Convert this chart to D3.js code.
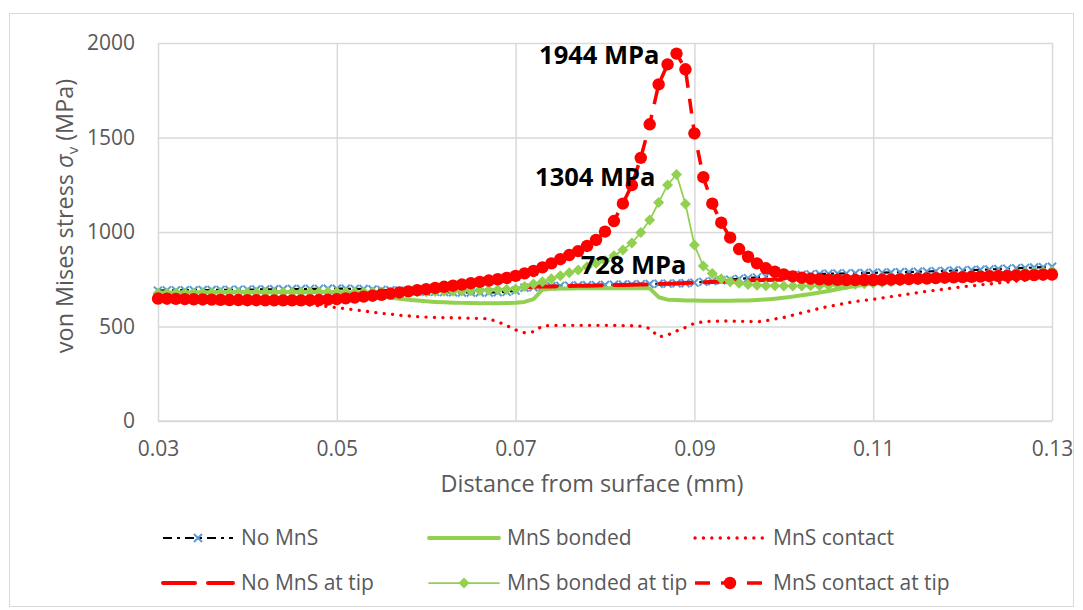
<!DOCTYPE html>
<html>
<head>
<meta charset="utf-8">
<script src="https://cdn.jsdelivr.net/npm/d3@7"></script>
<style>
  body { margin: 0; background: #fff; }
  text { font-family: "Open Sans", "Noto Sans", sans-serif; }
</style>
</head>
<body>
<div id="chart"></div>
<script>
// distance from surface (mm)
const distance = [
  0.030, 0.031, 0.032, 0.033, 0.034, 0.035, 0.036, 0.037, 0.038, 0.039,
  0.040, 0.041, 0.042, 0.043, 0.044, 0.045, 0.046, 0.047, 0.048, 0.049,
  0.050, 0.051, 0.052, 0.053, 0.054, 0.055, 0.056, 0.057, 0.058, 0.059,
  0.060, 0.061, 0.062, 0.063, 0.064, 0.065, 0.066, 0.067, 0.068, 0.069,
  0.070, 0.071, 0.072, 0.073, 0.074, 0.075, 0.076, 0.077, 0.078, 0.079,
  0.080, 0.081, 0.082, 0.083, 0.084, 0.085, 0.086, 0.087, 0.088, 0.089,
  0.090, 0.091, 0.092, 0.093, 0.094, 0.095, 0.096, 0.097, 0.098, 0.099,
  0.100, 0.101, 0.102, 0.103, 0.104, 0.105, 0.106, 0.107, 0.108, 0.109,
  0.110, 0.111, 0.112, 0.113, 0.114, 0.115, 0.116, 0.117, 0.118, 0.119,
  0.120, 0.121, 0.122, 0.123, 0.124, 0.125, 0.126, 0.127, 0.128, 0.129, 0.130
];

const noMnS = [
  690, 691, 691, 692, 692, 693, 693, 694, 694, 695,
  695, 696, 696, 697, 697, 698, 698, 699, 699, 700,
  700, 700, 699, 698, 696, 694, 692, 690, 688, 686,
  684, 683, 682, 681, 680, 680, 680, 680, 681, 683,
  690, 705, 708, 711, 713, 715, 716, 717, 718, 719,
  720, 721, 722, 723, 724, 725, 726, 727, 728, 729,
  732, 736, 740, 744, 748, 752, 756, 760, 764, 767,
  770, 772, 774, 776, 778, 779, 780, 781, 782, 783,
  784, 785, 786, 787, 788, 790, 791, 793, 794, 796,
  797, 799, 800, 802, 804, 806, 808, 810, 812, 814, 816
];

const mnsBonded = [
  680, 680, 680, 681, 681, 681, 681, 682, 682, 682,
  682, 682, 683, 683, 683, 683, 683, 683, 682, 682,
  680, 678, 675, 670, 665, 659, 653, 647, 642, 637,
  633, 630, 628, 626, 625, 624, 623, 623, 623, 624,
  626, 630, 645, 695, 700, 701, 701, 702, 702, 702,
  703, 703, 703, 703, 703, 702, 655, 642, 640, 638,
  637, 636, 636, 636, 636, 637, 638, 640, 643, 647,
  652, 658, 665, 672, 680, 688, 697, 706, 714, 721,
  727, 732, 737, 741, 745, 750, 753, 757, 760, 763,
  766, 769, 771, 774, 776, 778, 781, 783, 785, 788, 790
];

const mnsContact = [
  645, 644, 643, 642, 641, 640, 639, 638, 636, 634,
  632, 630, 628, 626, 623, 620, 617, 614, 610, 605,
  600, 594, 588, 582, 576, 570, 565, 560, 556, 552,
  550, 548, 547, 546, 545, 544, 543, 540, 525, 505,
  482, 467, 472, 503, 505, 506, 506, 506, 506, 506,
  506, 506, 505, 504, 502, 490, 445, 455, 476, 495,
  517, 525, 528, 529, 529, 528, 527, 525, 530, 540,
  548, 560, 572, 584, 596, 606, 615, 624, 632, 638,
  644, 651, 658, 665, 672, 679, 686, 692, 698, 704,
  710, 715, 720, 725, 730, 735, 740, 745, 750, 757, 764
];

// "No MnS at tip" only covers the tip region
const tipDistance = [
  0.071, 0.072, 0.073, 0.074, 0.075, 0.076, 0.077, 0.078, 0.079, 0.080,
  0.081, 0.082, 0.083, 0.084, 0.085, 0.086, 0.087, 0.088, 0.089, 0.090,
  0.091, 0.092, 0.093, 0.094, 0.095, 0.096, 0.097, 0.098, 0.099, 0.100
];
const noMnSTip = [
  708, 710, 711, 712, 713, 714, 715, 716, 717, 718,
  719, 720, 721, 722, 723, 725, 726, 728, 730, 732,
  734, 736, 738, 740, 742, 744, 745, 746, 747, 748
];

const mnsBondedTip = [
  676, 676, 677, 677, 677, 678, 678, 678, 679, 679,
  679, 680, 680, 680, 681, 681, 681, 682, 682, 682,
  682, 683, 683, 683, 683, 683, 683, 684, 684, 684,
  684, 685, 686, 687, 688, 689, 690, 692, 694, 696,
  698, 711, 725, 737, 753, 769, 785, 799, 816, 834,
  848, 874, 905, 942, 997, 1063, 1156, 1249, 1304, 1148,
  931, 820, 780, 752, 737, 729, 722, 718, 716, 715,
  714, 714, 714, 715, 716, 717, 719, 721, 723, 726,
  729, 733, 737, 741, 745, 749, 753, 756, 759, 762,
  765, 768, 771, 774, 776, 779, 781, 784, 786, 789, 792
];

const mnsContactTip = [
  648, 647, 646, 645, 644, 643, 642, 641, 640, 640,
  639, 639, 638, 638, 638, 638, 638, 639, 640, 642,
  645, 649, 653, 658, 663, 668, 674, 680, 686, 692,
  698, 704, 710, 716, 722, 729, 736, 743, 750, 757,
  768, 781, 794, 813, 834, 856, 878, 899, 926, 958,
  1002, 1058, 1150, 1248, 1392, 1570, 1781, 1887, 1944, 1861,
  1522, 1290, 1150, 1049, 970, 910, 869, 834, 808, 790,
  776, 765, 758, 753, 750, 748, 747, 746, 746, 746,
  746, 747, 748, 749, 751, 753, 754, 756, 758, 760,
  761, 763, 764, 766, 767, 768, 770, 771, 772, 774, 775
];

const xTicks = [0.03, 0.05, 0.07, 0.09, 0.11, 0.13];
const yTicks = [0, 500, 1000, 1500, 2000];
const peakLabels = ["1944 MPa", "1304 MPa", "728 MPa"];

const W = 1083, H = 610;
const margin = {top: 43, right: 31, bottom: 189, left: 158};
const width = W - margin.left - margin.right,
    height = H - margin.top - margin.bottom;

const RED = "#ff0000", GREEN = "#92d050", BLUE = "#5b9bd5", GRID = "#d9d9d9", TXT = "#595959";

const svgRoot = d3.select("#chart")
    .append("svg")
    .attr("width", W)
    .attr("height", H);

// chart border
svgRoot.append("rect")
    .attr("x", 9.5).attr("y", 13.5)
    .attr("width", W - 19).attr("height", H - 17)
    .attr("fill", "none").attr("stroke", GRID);

const svg = svgRoot.append("g")
    .attr("transform", `translate(${margin.left}, ${margin.top})`);

const x = d3.scaleLinear().domain([0.03, 0.13]).range([0, width]);
const y = d3.scaleLinear().domain([0, 2000]).range([height, 0]);

// grid + axes
svg.append("g")
    .call(d3.axisLeft(y).tickValues(yTicks).tickSize(-width).tickPadding(23).tickFormat(d3.format("d")))
    .call(g => g.select(".domain").remove())
    .call(g => g.selectAll("line").attr("stroke", GRID).attr("stroke-width", 1.5))
    .call(g => g.selectAll("text").attr("fill", TXT).style("font-size", "21px").style("font-family", "Open Sans"));

svg.append("g")
    .attr("transform", `translate(0, ${height})`)
    .call(d3.axisBottom(x).tickValues(xTicks).tickSize(-height).tickPadding(20).tickFormat(d3.format(".2f")))
    .call(g => g.select(".domain").remove())
    .call(g => g.selectAll("line").attr("stroke", GRID).attr("stroke-width", 1.5))
    .call(g => g.selectAll("text").attr("fill", TXT).style("font-size", "21px").style("font-family", "Open Sans"));

svg.append("line")
    .attr("x1", 0).attr("x2", width)
    .attr("y1", height).attr("y2", height)
    .attr("stroke", GRID).attr("stroke-width", 1.5);

// axis titles
svgRoot.append("text")
    .attr("x", 592)
    .attr("y", 492)
    .attr("text-anchor", "middle")
    .attr("fill", TXT)
    .style("font-size", "23.4px")
    .text("Distance from surface (mm)");

const yTitle = svgRoot.append("text")
    .attr("transform", `translate(73, 216) rotate(-90)`)
    .attr("text-anchor", "middle")
    .attr("fill", TXT)
    .style("font-size", "23.4px");
yTitle.append("tspan").text("von Mises stress ");
yTitle.append("tspan").attr("font-style", "italic").text("σ");
yTitle.append("tspan").attr("font-size", "15px").attr("dy", 5).text("v");
yTitle.append("tspan").attr("dy", -5).text(" (MPa)");

const line = d3.line()
    .x(function(d) { return x(d[0]); })
    .y(function(d) { return y(d[1]); });

const full = function(vals) { return distance.map(function(d, i) { return [d, vals[i]]; }); };

// series, drawn in legend order
const series = [
  {name: "No MnS", pts: full(noMnS), stroke: "#000", sw: 2.2, dash: "9,5,3,5", cap: "butt", marker: "x"},
  {name: "MnS bonded", pts: full(mnsBonded), stroke: GREEN, sw: 4, dash: null, cap: "round", marker: null},
  {name: "MnS contact", pts: full(mnsContact), stroke: RED, sw: 3.3, dash: "0.1,8.3", cap: "round", marker: null},
  {name: "No MnS at tip", pts: tipDistance.map(function(d, i) { return [d, noMnSTip[i]]; }), stroke: RED, sw: 4, dash: "32,13", cap: "round", marker: null},
  {name: "MnS bonded at tip", pts: full(mnsBondedTip), stroke: GREEN, sw: 1.75, dash: null, cap: "round", marker: "diamond"},
  {name: "MnS contact at tip", pts: full(mnsContactTip), stroke: RED, sw: 3.5, dash: "15,11", cap: "butt", marker: "circle"}
];

function drawMarker(g, type, cx, cy) {
  if (type === "x") {
    g.append("path")
      .attr("d", `M${cx - 4},${cy - 4}L${cx + 4},${cy + 4}M${cx - 4},${cy + 4}L${cx + 4},${cy - 4}`)
      .attr("stroke", BLUE).attr("stroke-width", 2).attr("fill", "none");
  } else if (type === "diamond") {
    g.append("path")
      .attr("d", `M${cx},${cy - 5.5}L${cx + 5.5},${cy}L${cx},${cy + 5.5}L${cx - 5.5},${cy}Z`)
      .attr("fill", GREEN);
  } else if (type === "circle") {
    g.append("circle").attr("cx", cx).attr("cy", cy).attr("r", 6.2).attr("fill", RED);
  }
}

series.forEach(function(s) {
  const g = svg.append("g");
  g.append("path")
    .datum(s.pts)
    .attr("d", line)
    .attr("fill", "none")
    .attr("stroke", s.stroke)
    .attr("stroke-width", s.sw)
    .attr("stroke-linecap", s.cap)
    .attr("stroke-linejoin", "round")
    .attr("stroke-dasharray", s.dash);
  if (s.marker) {
    s.pts.forEach(function(p) { drawMarker(g, s.marker, x(p[0]), y(p[1])); });
  }
});

// peak labels
const peakX = 0.088;
const labelPos = [
  {v: 1944, dx: -17, dy: 10, anchor: "end"},
  {v: 1304, dx: -21, dy: 11, anchor: "end"},
  {v: 728, dx: 10, dy: -9, anchor: "end"}
];
labelPos.forEach(function(l, i) {
  svg.append("text")
    .attr("x", x(peakX) + l.dx)
    .attr("y", y(l.v) + l.dy)
    .attr("text-anchor", l.anchor)
    .attr("fill", "#000")
    .style("font-size", "25.5px")
    .style("font-weight", "bold")
    .text(peakLabels[i]);
});

// legend
const legendCols = [163, 429, 695];
const legendRows = [538, 583];
series.forEach(function(s, i) {
  const lx = legendCols[i % 3], ly = legendRows[Math.floor(i / 3)];
  const g = svgRoot.append("g");
  g.append("line")
    .attr("x1", lx).attr("x2", lx + 70)
    .attr("y1", ly).attr("y2", ly)
    .attr("stroke", s.stroke)
    .attr("stroke-width", s.sw)
    .attr("stroke-linecap", s.cap)
    .attr("stroke-dasharray", s.dash);
  if (s.marker) drawMarker(g, s.marker, lx + 35, ly);
  g.append("text")
    .attr("x", lx + 78)
    .attr("y", ly + 7)
    .attr("fill", TXT)
    .style("font-size", "21px")
    .text(s.name);
});
</script>
</body>
</html>
